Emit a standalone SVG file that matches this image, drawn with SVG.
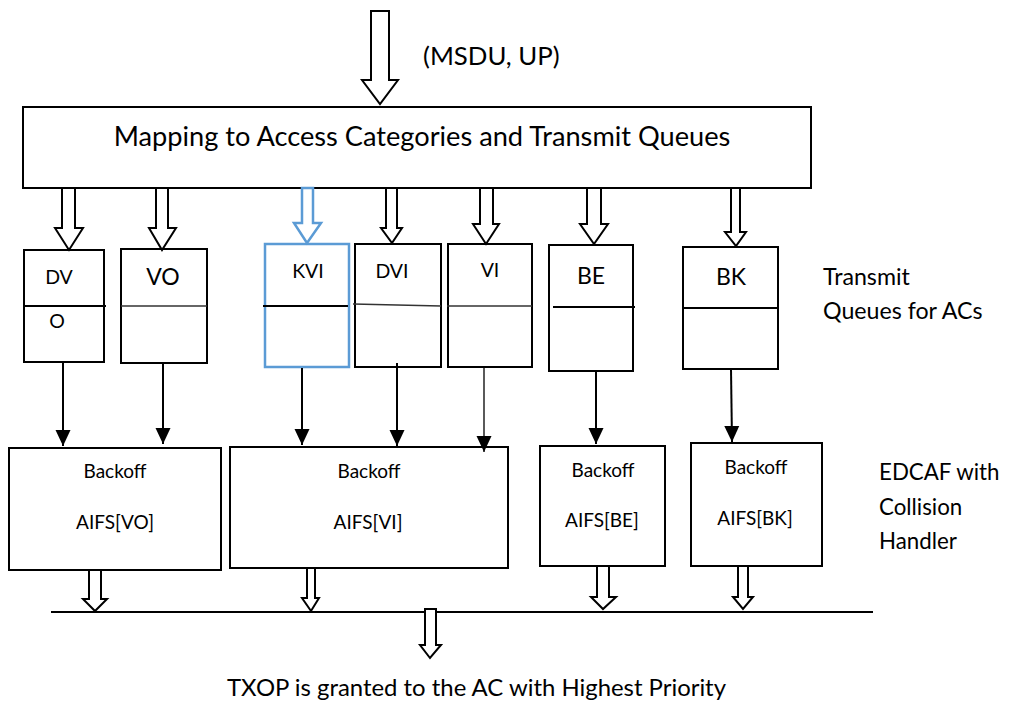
<svg xmlns="http://www.w3.org/2000/svg" width="1018" height="702" viewBox="0 0 1018 702">
  <style>
    text { font-family: Lato, "Open Sans", "Liberation Sans", sans-serif; fill: #000; }
    .box { fill: #fff; stroke: #000; stroke-width: 2; }
    .blue { fill: #fff; stroke: #5b9bd5; stroke-width: 2.5; }
    .fat { fill: #fff; stroke: #000; stroke-width: 2; stroke-linejoin: miter; }
    .fat-blue { fill: #fff; stroke: #5b9bd5; stroke-width: 2.5; }
    .div { stroke: #000; stroke-width: 2; }
    .div-thin { stroke: #333; stroke-width: 1.3; }
    .link { stroke: #000; stroke-width: 2; fill: none; marker-end: url(#tri); }
    .link-thin { stroke: #000; stroke-width: 1.3; fill: none; marker-end: url(#tri); }
    .t-in { font-size: 25.8px; }
    .t-map { font-size: 27.2px; }
    .t-q { font-size: 19.5px; }
    .t-qb { font-size: 23px; }
    .t-side { font-size: 23.2px; }
    .t-edcaf { font-size: 22.3px; }
    .t-out { font-size: 23.9px; }
    .t-bo { font-size: 19px; }
  </style>
  <defs>
    <marker id="tri" viewBox="0 -8 16 16" refX="16" refY="0" markerWidth="16" markerHeight="16" markerUnits="userSpaceOnUse" orient="auto">
      <path d="M0,-7.5 L16,0 L0,7.5 Z" fill="#000"/>
    </marker>
  </defs>

  <rect width="1018" height="702" fill="#fff"/>

  <!-- incoming MSDU -->
  <g id="input">
    <path class="fat" d="M371,11 L389,11 L389,80 L398,80 L380,104 L362,80 L371,80 Z"/>
    <text x="423" y="65" class="t-in">(MSDU, UP)</text>
  </g>

  <!-- mapping stage -->
  <g id="mapping">
    <rect class="box" x="23" y="107" width="788" height="81"/>
    <text x="422" y="146" class="t-map" text-anchor="middle">Mapping to Access Categories and Transmit Queues</text>
  </g>

  <!-- transmit queues -->
  <g id="q-dvo">
    <rect class="box" x="24" y="250" width="80" height="112"/>
    <line class="div" x1="24" y1="306" x2="106" y2="306"/>
    <text x="59" y="284" class="t-q" text-anchor="middle">DV</text>
    <text x="57" y="328" class="t-q" text-anchor="middle">O</text>
  </g>
  <g id="q-vo">
    <rect class="box" x="121" y="249" width="86" height="114"/>
    <line class="div-thin" x1="121" y1="306" x2="207" y2="306"/>
    <text x="163" y="285" class="t-qb" text-anchor="middle">VO</text>
  </g>
  <g id="q-kvi">
    <rect class="blue" x="265" y="244" width="84" height="123"/>
    <line class="div" x1="263" y1="306" x2="348" y2="306"/>
    <text x="308" y="278" class="t-q" text-anchor="middle">KVI</text>
  </g>
  <g id="q-dvi">
    <rect class="box" x="355" y="244" width="86" height="123"/>
    <line class="div-thin" x1="353" y1="304" x2="441" y2="306"/>
    <text x="392" y="278" class="t-q" text-anchor="middle">DVI</text>
  </g>
  <g id="q-vi">
    <rect class="box" x="448" y="244" width="84" height="123"/>
    <line class="div-thin" x1="447" y1="306" x2="532" y2="306"/>
    <text x="490" y="277" class="t-q" text-anchor="middle">VI</text>
  </g>
  <g id="q-be">
    <rect class="box" x="549" y="245" width="84" height="126"/>
    <line class="div" x1="553" y1="307" x2="635" y2="307"/>
    <text x="591" y="284" class="t-qb" text-anchor="middle">BE</text>
  </g>
  <g id="q-bk">
    <rect class="box" x="683" y="247" width="95" height="122"/>
    <line class="div" x1="683" y1="308" x2="778" y2="308"/>
    <text x="731" y="285" class="t-qb" text-anchor="middle">BK</text>
  </g>
  <g id="label-queues">
    <text x="823" y="285" class="t-side">Transmit</text>
    <text x="823" y="319" class="t-side">Queues for ACs</text>
  </g>

  <!-- EDCAF backoff entities -->
  <g id="bo-vo">
    <rect class="box" x="9" y="448" width="212" height="122"/>
    <text x="115" y="478" class="t-bo" text-anchor="middle">Backoff</text>
    <text x="115" y="529" class="t-bo" text-anchor="middle">AIFS[VO]</text>
  </g>
  <g id="bo-vi">
    <rect class="box" x="230" y="447" width="278" height="121"/>
    <text x="369" y="478" class="t-bo" text-anchor="middle">Backoff</text>
    <text x="368" y="529" class="t-bo" text-anchor="middle">AIFS[VI]</text>
  </g>
  <g id="bo-be">
    <rect class="box" x="540" y="446" width="125" height="120"/>
    <text x="603" y="477" class="t-bo" text-anchor="middle">Backoff</text>
    <text x="602" y="527" class="t-bo" text-anchor="middle">AIFS[BE]</text>
  </g>
  <g id="bo-bk">
    <rect class="box" x="691" y="443" width="131" height="123"/>
    <text x="756" y="474" class="t-bo" text-anchor="middle">Backoff</text>
    <text x="755" y="525" class="t-bo" text-anchor="middle">AIFS[BK]</text>
  </g>
  <g id="label-edcaf">
    <text x="879" y="480" class="t-edcaf">EDCAF with</text>
    <text x="879" y="515" class="t-edcaf">Collision</text>
    <text x="879" y="549" class="t-edcaf">Handler</text>
  </g>

  <g id="result">
    <text x="476.5" y="696" class="t-out" text-anchor="middle">TXOP is granted to the AC with Highest Priority</text>
  </g>

  <!-- connectors -->
  <g id="connectors">
    <!-- mapping to queues -->
    <path class="fat" d="M62,188 L75,188 L75,228 L83,228 L69,250 L55,228 L62,228 Z"/>
    <path class="fat" d="M156,188 L168,188 L168,228 L176,228 L162,250 L149,228 L156,228 Z"/>
    <path class="fat-blue" d="M302,188 L313,188 L313,223 L321,223 L307,243 L294,223 L302,223 Z"/>
    <path class="fat" d="M386,188 L397,188 L397,228 L402,228 L392,243 L381,228 L386,228 Z"/>
    <path class="fat" d="M480,188 L493,188 L493,224 L499,224 L486,244 L473,224 L480,224 Z"/>
    <path class="fat" d="M587,188 L601,188 L601,224 L608,224 L594,244 L580,224 L587,224 Z"/>
    <path class="fat" d="M731,188 L740,188 L740,232 L746,232 L736,246 L725,232 L731,232 Z"/>

    <!-- queues to backoff -->
    <line class="link" x1="63" y1="362" x2="63" y2="446"/>
    <line class="link" x1="163" y1="363" x2="163" y2="444"/>
    <line class="link" x1="302" y1="368" x2="302" y2="445"/>
    <line class="link" x1="397" y1="363" x2="397" y2="446"/>
    <line class="link-thin" x1="484" y1="367" x2="484" y2="452"/>
    <line class="link" x1="596" y1="371" x2="596" y2="444"/>
    <line class="link" x1="731" y1="369" x2="732" y2="442"/>

    <!-- backoff to arbitration line -->
    <path class="fat" d="M89,570 L101,570 L101,599 L107,599 L95,611 L83,599 L89,599 Z"/>
    <path class="fat" d="M307,568 L315,568 L315,598 L319,598 L311,611 L302,598 L307,598 Z"/>
    <path class="fat" d="M597,566 L609,566 L609,597 L616,597 L603,609 L591,597 L597,597 Z"/>
    <path class="fat" d="M738,566 L748,566 L748,597 L753,597 L743,609 L733,597 L738,597 Z"/>
    <line x1="51" y1="612" x2="873" y2="612" stroke="#000" stroke-width="2"/>
    <path class="fat" d="M425,609 L436,609 L436,645 L441,645 L430,658 L420,645 L425,645 Z"/>
  </g>
</svg>
